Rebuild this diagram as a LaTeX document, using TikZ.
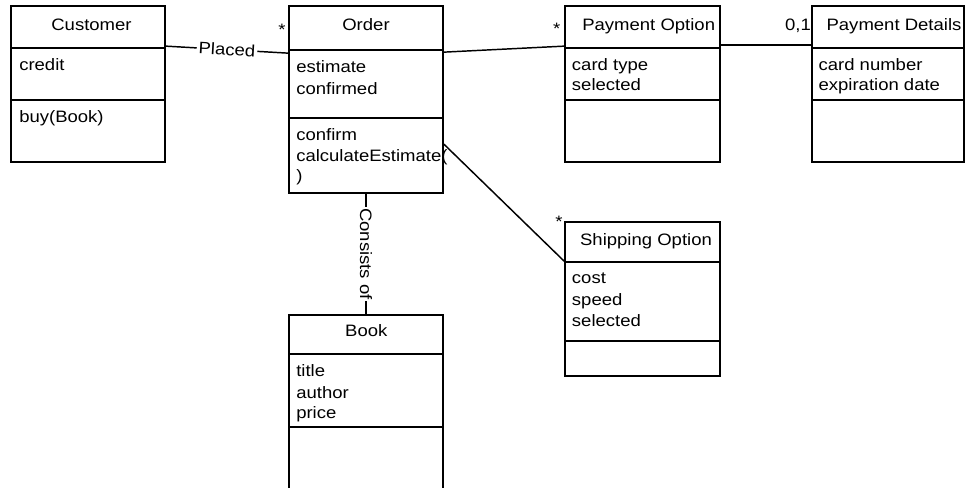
\documentclass[tikz,border=0pt]{standalone}
\usepackage{fontspec}
\setmainfont{Liberation Sans}[FakeStretch=1.12]
\usetikzlibrary{fit,calc}

\tikzset{
  classbox/.style={draw, line width=1.3pt, inner sep=0pt},
  divider/.style={line width=1.3pt},
  assoc/.style={line width=1.1pt},
  title/.style={anchor=base, inner sep=0pt},
  member/.style={anchor=base west, inner sep=0pt},
  mult/.style={anchor=base, inner sep=0pt},
  tag/.style={fill=white, inner sep=1.5pt, sloped, midway},
}

\begin{document}
\begin{tikzpicture}[x=0.75pt, y=-0.75pt, font=\fontsize{12.4}{15}\selectfont]
\useasboundingbox (0,0) rectangle (974,487);
\fill[white] (0,0) rectangle (974,487);
\clip (0,0) rectangle (974,487);

% ---- class boxes ----
\node[classbox, fit={(11,6) (165,162)}] (customer) {};
\draw[divider] (11,48) -- (165,48);
\draw[divider] (11,100) -- (165,100);
\node[title] (customer-t) at (91.5,30.7) {Customer};
\node[member] (customer-a1) at (19,70) {credit};
\node[member] (customer-o1) at (19,122.7) {buy(Book)};

\node[classbox, fit={(289,6) (443,193)}] (order) {};
\draw[divider] (289,50) -- (443,50);
\draw[divider] (289,118) -- (443,118);
\node[title] (order-t) at (366,30.7) {Order};
\node[member] (order-a1) at (296,72.7) {estimate};
\node[member] (order-a2) at (296,94) {confirmed};
\node[member] (order-o1) at (296,140) {confirm};
\node[member] (order-o2) at (296,161.7) {calculateEstimate(};
\node[member] (order-o3) at (296,181.5) {)};

\node[classbox, fit={(565,6) (720,162)}] (payopt) {};
\draw[divider] (565,48) -- (720,48);
\draw[divider] (565,100) -- (720,100);
\node[title] (payopt-t) at (648.7,30.7) {Payment Option};
\node[member] (payopt-a1) at (571.7,70.7) {card type};
\node[member] (payopt-a2) at (571.7,90.3) {selected};

\node[classbox, fit={(812,6) (964,162)}] (paydet) {};
\draw[divider] (812,48) -- (964,48);
\draw[divider] (812,100) -- (964,100);
\node[title] (paydet-t) at (894,30.7) {Payment Details};
\node[member] (paydet-a1) at (818.3,70.7) {card number};
\node[member] (paydet-a2) at (818.3,90.3) {expiration date};

\node[classbox, fit={(565,222) (720,376)}] (ship) {};
\draw[divider] (565,262) -- (720,262);
\draw[divider] (565,341) -- (720,341);
\node[title] (ship-t) at (646,245) {Shipping Option};
\node[member] (ship-a1) at (571.7,283.3) {cost};
\node[member] (ship-a2) at (571.7,305.7) {speed};
\node[member] (ship-a3) at (571.7,326.7) {selected};

\node[classbox, fit={(289,315) (443,500)}] (book) {};
\draw[divider] (289,354) -- (443,354);
\draw[divider] (289,427) -- (443,427);
\node[title] (book-t) at (366.3,336.7) {Book};
\node[member] (book-a1) at (296,376.7) {title};
\node[member] (book-a2) at (296,398.3) {author};
\node[member] (book-a3) at (296,418.3) {price};

% ---- associations ----
\draw[assoc] ($(customer.north east)+(0,41)$) -- node[tag] (placed) {Placed}
  ($(order.north west)+(0,48)$);
\draw[assoc] ($(order.north east)+(0,47)$) -- ($(payopt.north west)+(0,41)$);
\draw[assoc] ($(payopt.north east)+(0,40)$) -- ($(paydet.north west)+(0,40)$);
\draw[assoc] ($(order.north east)+(0,139)$) -- ($(ship.north west)+(0,40)$);
\draw[assoc] (order.south) -- node[tag, inner sep=1pt] (consists) {Consists of} (book.north);

% ---- multiplicities ----
\node[mult] (m-order) at (282,35.7) {*};
\node[mult] (m-payopt) at (556.7,34) {*};
\node[mult] (m-paydet) at (798,30) {0,1};
\node[mult] (m-ship) at (559,227) {*};
\end{tikzpicture}
\end{document}
